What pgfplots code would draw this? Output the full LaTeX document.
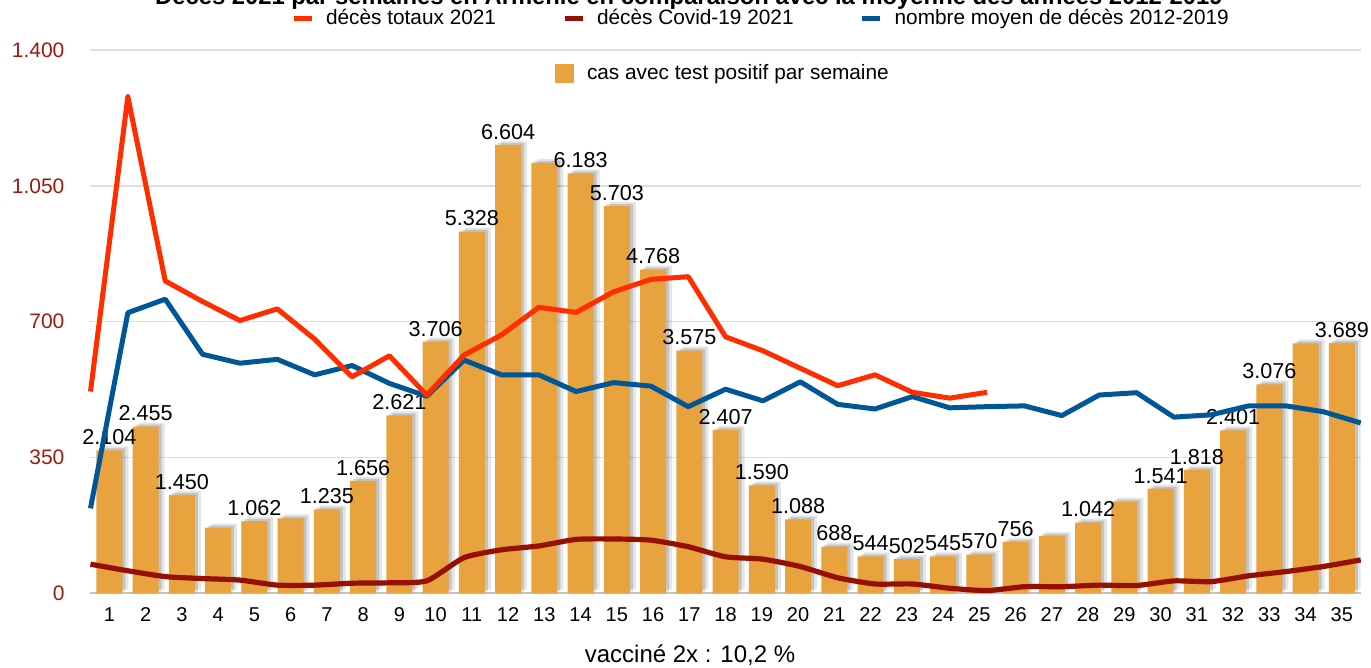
\documentclass[border=0pt]{standalone}
\usepackage{pgfplots}
\pgfplotsset{compat=1.18}
\usepackage{pgfplotstable}
\usepackage{fontspec}
\setmainfont{Liberation Sans}
\definecolor{barorange}{RGB}{232,162,62}
\definecolor{totred}{RGB}{255,45,0}
\definecolor{covred}{RGB}{150,16,0}
\definecolor{avgblue}{RGB}{0,86,150}
\definecolor{ticklab}{RGB}{158,26,12}
\definecolor{gridgray}{RGB}{222,222,222}
\definecolor{axisgray}{RGB}{195,195,195}

% cas avec test positif par semaine (valeurs étiquetées)
\pgfplotstableread{
x y
1 2104
2 2455
3 1450
5 1062
7 1235
8 1656
9 2621
10 3706
11 5328
12 6604
14 6183
15 5703
16 4768
17 3575
18 2407
19 1590
20 1088
21 688
22 544
23 502
24 545
25 570
26 756
28 1042
30 1541
31 1818
32 2401
33 3076
35 3689
}\caslab
% cas sans étiquette
\pgfplotstableread{
x y
4 966
6 1105
13 6340
27 845
29 1350
34 3680
}\casnolab
% décès totaux 2021
\pgfplotstableread{
x y
1 520
2 1280
3 805
4 752
5 703
6 733
7 655
8 558
9 612
10 511
11 614
12 666
13 737
14 724
15 777
16 809
17 816
18 661
19 625
20 580
21 535
22 563
23 518
24 503
25 518
}\totaux
% décès Covid-19 2021
\pgfplotstableread{
x y
1 75
2 58
3 43
4 38
5 34
6 21
7 21
8 26
9 27
10 32
11 92
12 112
13 122
14 139
15 140
16 137
17 120
18 94
19 88
20 69
21 40
22 24
23 24
24 13
25 7
26 17
27 17
28 21
29 20
30 32
31 30
32 45
33 56
34 69
35 86
}\covid
% nombre moyen de décès 2012-2019
\pgfplotstableread{
x y
1 219
2 723
3 758
4 616
5 593
6 603
7 563
8 587
9 541
10 508
11 601
12 563
13 563
14 520
15 543
16 534
17 481
18 526
19 496
20 545
21 487
22 475
23 507
24 478
25 481
26 483
27 458
28 511
29 517
30 454
31 460
32 483
33 483
34 468
35 439
}\moyen

\begin{document}
\begin{tikzpicture}
% ---------- bars (secondary, hidden scale 0-8000) ----------
\begin{axis}[
  at={(0,0)}, anchor=south west,
  scale only axis, width=635.1pt, height=271.6pt,
  xmin=0.48, xmax=35.52, ymin=0, ymax=8000,
  axis x line*=bottom, axis y line*=left,
  x axis line style={-, draw=axisgray, line width=1.2pt},
  y axis line style={draw=none},
  xtick={1,...,35}, ytick={0,2000,4000,6000,8000}, yticklabels={},
  ymajorgrids, major grid style={gridgray, line width=0.8pt},
  major tick length=0pt,
  scaled y ticks=false,
  /pgf/number format/assume math mode=true,
  xticklabel style={font=\fontsize{10}{12}\selectfont, yshift=-3.5pt},
  legend style={at={(axis description cs:0.3657,0.9569)}, anchor=west,
    draw=none, fill=none, inner sep=0pt, outer sep=0pt,
    font=\fontsize{10.4}{13}\selectfont,
    /tikz/every odd column/.append style={column sep=6.5pt},
    nodes={inner sep=0pt}},
  legend image code/.code={\fill[barorange] (0pt,-4.75pt) rectangle (9.5pt,4.75pt);},
]
% shadows
\addplot[ybar, bar width=13pt, bar shift=0pt, draw=none, fill=black, opacity=0.10,
  forget plot, /tikz/transform canvas={xshift=3pt,yshift=2pt}] table {\caslab};
\addplot[ybar, bar width=13pt, bar shift=0pt, draw=none, fill=black, opacity=0.10,
  forget plot, /tikz/transform canvas={xshift=3pt,yshift=2pt}] table {\casnolab};
\addplot[ybar, bar width=13pt, bar shift=0pt, draw=none, fill=black, opacity=0.15,
  forget plot, /tikz/transform canvas={xshift=1.5pt,yshift=1pt}] table {\caslab};
\addplot[ybar, bar width=13pt, bar shift=0pt, draw=none, fill=black, opacity=0.15,
  forget plot, /tikz/transform canvas={xshift=1.5pt,yshift=1pt}] table {\casnolab};
% bars
\addplot[ybar, bar width=13pt, bar shift=0pt, draw=none, fill=barorange, forget plot] table {\casnolab};
\addplot[ybar, bar width=13pt, bar shift=0pt, draw=none, fill=barorange,
  nodes near coords,
  every node near coord/.append style={font=\fontsize{10.8}{12}\selectfont, text=black,
    inner sep=2.5pt, /pgf/number format/1000 sep={.},
    /pgf/number format/assume math mode=true}] table {\caslab};
\addlegendentry{cas avec test positif par semaine}
\end{axis}

% ---------- lines (primary scale 0-1400) ----------
\begin{axis}[
  at={(0,0)}, anchor=south west,
  scale only axis, width=635.1pt, height=271.6pt,
  xmin=1, xmax=35, ymin=0, ymax=1400,
  axis line style={draw=none},
  xtick=\empty, ytick={0,350,700,1050,1400},
  major tick length=0pt,
  scaled y ticks=false,
  clip=false,
  /pgf/number format/1000 sep={.},
  /pgf/number format/assume math mode=true,
  yticklabel style={font=\fontsize{10.5}{12}\selectfont, text=ticklab, xshift=-9.5pt},
  xlabel={vacciné 2x : 10,2 \%},
  xlabel style={at={(axis description cs:0.472,-0.114)}, anchor=center,
    font=\fontsize{12}{14}\selectfont},
  legend columns=3, reverse legend,
  legend style={at={(axis description cs:0.1579,1.0589)}, anchor=west,
    draw=none, fill=none, inner sep=0pt, outer sep=0pt,
    font=\fontsize{10.4}{13}\selectfont,
    /tikz/every odd column/.append style={column sep=6pt},
    /tikz/every even column/.append style={column sep=33pt},
    nodes={inner sep=0pt}},
  legend image code/.code={\draw[#1, line width=2.5pt] (0pt,0pt) -- (9pt,0pt);},
]
\addplot[avgblue, line width=2.5pt, line join=round] table {\moyen};
\addlegendentry{nombre moyen de décès 2012-2019}
\addplot[covred, line width=2.6pt, line join=round, smooth, tension=0.35] table {\covid};
\addlegendentry{décès Covid-19 2021}
\addplot[totred, line width=2.5pt, line join=round] table {\totaux};
\addlegendentry{décès totaux 2021}
\end{axis}
\node[anchor=base, inner sep=0pt, font=\bfseries\fontsize{11.9}{14}\selectfont]
  at (299.25pt,294.4pt)
  {Décès 2021 par semaines en Arménie en comparaison avec la moyenne des années 2012-2019};
\pgfresetboundingbox
\useasboundingbox (-45.25pt,-37.35pt) rectangle (640.25pt,296.65pt);
\end{tikzpicture}
\end{document}
